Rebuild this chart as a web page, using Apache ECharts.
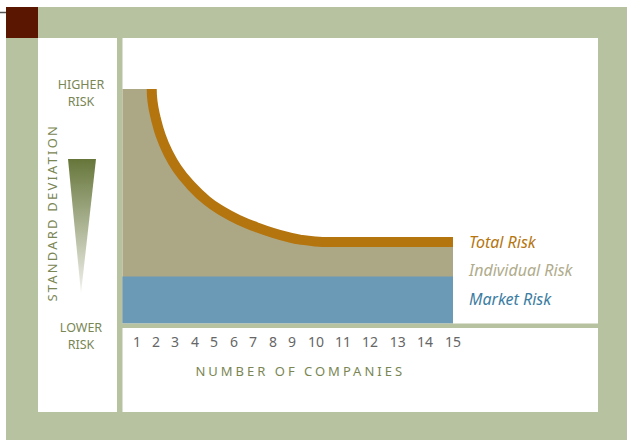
<!DOCTYPE html>
<html>
<head>
<meta charset="utf-8">
<script src="https://cdn.jsdelivr.net/npm/echarts@6.0.0/dist/echarts.min.js"></script>
<style>
  html, body { margin: 0; padding: 0; background: #fff; }
  #chart { width: 627px; height: 440px; }
</style>
</head>
<body>
<div id="chart"></div>
<script>
// x labels: number of companies, and where each one sits on the x scale
const companies = [1, 2, 3, 4, 5, 6, 7, 8, 9, 10, 11, 12, 13, 14, 15];
const tickPos = [1, 1.98, 2.96, 3.99, 4.97, 6.0, 6.98, 8.02, 9.0, 10.24, 11.63, 13.02, 14.46, 15.86, 17.31];

// total risk curve
const totalX = [1.759, 1.80, 1.965, 2.213, 2.574, 3.065, 3.735, 4.597, 5.454, 6.316, 7.178, 8.035, 8.897, 9.413, 10.19, 10.96, 17.31];
const totalY = [100, 94.58, 87.63, 80.38, 73.26, 66.18, 59.28, 52.45, 47.63, 43.92, 41.02, 38.59, 36.63, 35.78, 35.01, 34.75, 34.75];

// market risk level and the top of the scale
const marketRisk = 20;
const riskTop = 100;

const xMin = 0.25, xMax = 17.31;

const green = '#b7c2a0';
const olive = '#7a8654';

const totalData = totalX.map(function (x, i) { return [x, totalY[i]]; });
const individualData = [[xMin, riskTop]].concat(totalData);
const marketData = [[xMin, marketRisk], [xMax, marketRisk]];

const dom = document.getElementById('chart');
const chart = echarts.init(dom, null, { renderer: 'svg' });

function label(text, x, y) {
    return {
        type: 'text', z: 5, x: x, y: y,
        style: { text: text, fill: olive, font: '12.5px "Noto Sans"', align: 'center', verticalAlign: 'middle' }
    };
}

const option = {
    animation: false,
    backgroundColor: '#fff',
    textStyle: { fontFamily: 'Noto Sans' },
    graphic: [
        // frame
        { type: 'rect', z: -10, shape: { x: 6, y: 7, width: 621, height: 433 }, style: { fill: green } },
        { type: 'rect', z: -9, shape: { x: 6, y: 7, width: 32, height: 31 }, style: { fill: '#5a1600' } },
        { type: 'line', z: -9, shape: { x1: 0, y1: 12.5, x2: 6, y2: 12.5 }, style: { stroke: '#555', lineWidth: 1.5 } },
        { type: 'rect', z: -9, shape: { x: 38, y: 38, width: 79, height: 374 }, style: { fill: '#fff' } },
        { type: 'rect', z: -9, shape: { x: 122.5, y: 38, width: 475.5, height: 374 }, style: { fill: '#fff' } },
        { type: 'rect', z: -8, shape: { x: 117, y: 323.5, width: 481, height: 4.5 }, style: { fill: green } },
        // left panel
        label('HIGHER', 81, 84),
        label('RISK', 81, 101.2),
        label('LOWER', 81, 327),
        label('RISK', 81, 344.2),
        {
            type: 'polygon', z: 5,
            shape: { points: [[68, 159], [96, 159], [81, 293]] },
            style: {
                fill: new echarts.graphic.LinearGradient(0, 0, 0, 1, [
                    { offset: 0, color: '#66763a' },
                    { offset: 1, color: '#f2f2ee' }
                ])
            }
        }
    ],
    legend: {
        orient: 'vertical',
        left: 459,
        top: 229,
        icon: 'none',
        itemWidth: 0,
        itemHeight: 0,
        itemGap: 12.3,
        selectedMode: false,
        textStyle: { fontSize: 16, fontStyle: 'italic', fontFamily: 'Noto Sans' },
        data: [
            { name: 'Total Risk', textStyle: { color: '#b5760f' } },
            { name: 'Individual Risk', textStyle: { color: '#b0ac8c' } },
            { name: 'Market Risk', textStyle: { color: '#3c7da2' } }
        ]
    },
    grid: { left: 122.5, top: 89, width: 330.5, height: 234.5, outerBoundsMode: 'none' },
    xAxis: {
        type: 'value',
        min: xMin,
        max: xMax,
        name: 'NUMBER OF COMPANIES',
        nameLocation: 'middle',
        nameGap: 41,
        nameTextStyle: { color: olive, fontSize: 13, fontFamily: 'Noto Sans', padding: [0, 0, 0, 25] },
        axisLine: { show: false },
        axisTick: { show: false },
        splitLine: { show: false },
        axisLabel: {
            customValues: tickPos,
            margin: 11,
            color: '#666',
            fontSize: 14,
            fontFamily: 'Noto Sans',
            formatter: function (v) {
                const i = tickPos.findIndex(function (p) { return Math.abs(p - v) < 0.01; });
                return i < 0 ? '' : String(companies[i]);
            }
        }
    },
    yAxis: {
        type: 'value',
        min: 0,
        max: riskTop,
        name: 'STANDARD DEVIATION',
        nameLocation: 'middle',
        nameRotate: 90,
        nameGap: 64,
        nameTextStyle: { color: olive, fontSize: 13, fontFamily: 'Noto Sans', padding: [0, 13, 0, 0] },
        axisLine: { show: false },
        axisTick: { show: false },
        axisLabel: { show: false },
        splitLine: { show: false }
    },
    series: [
        {
            name: 'Individual Risk',
            type: 'line',
            data: individualData,
            smooth: true,
            symbol: 'none',
            z: 2,
            itemStyle: { color: '#aca886' },
            lineStyle: { width: 0 },
            areaStyle: { color: '#aca886', opacity: 1 }
        },
        {
            name: 'Market Risk',
            type: 'line',
            data: marketData,
            symbol: 'none',
            z: 3,
            itemStyle: { color: '#6a9ab6' },
            lineStyle: { width: 0 },
            areaStyle: { color: '#6a9ab6', opacity: 1 }
        },
        {
            name: 'Total Risk',
            type: 'line',
            data: totalData,
            smooth: true,
            symbol: 'none',
            z: 4,
            itemStyle: { color: '#b4740e' },
            lineStyle: { width: 10, color: '#b4740e', cap: 'butt' }
        }
    ]
};

chart.setOption(option);

// spaced capitals, as in the original
function spaceLetters() {
    dom.querySelectorAll('text').forEach(function (t) {
        if (t.textContent === 'NUMBER OF COMPANIES') t.style.letterSpacing = '3px';
        if (t.textContent === 'STANDARD DEVIATION') t.style.letterSpacing = '2.2px';
    });
}
spaceLetters();
chart.on('finished', spaceLetters);
</script>
</body>
</html>
